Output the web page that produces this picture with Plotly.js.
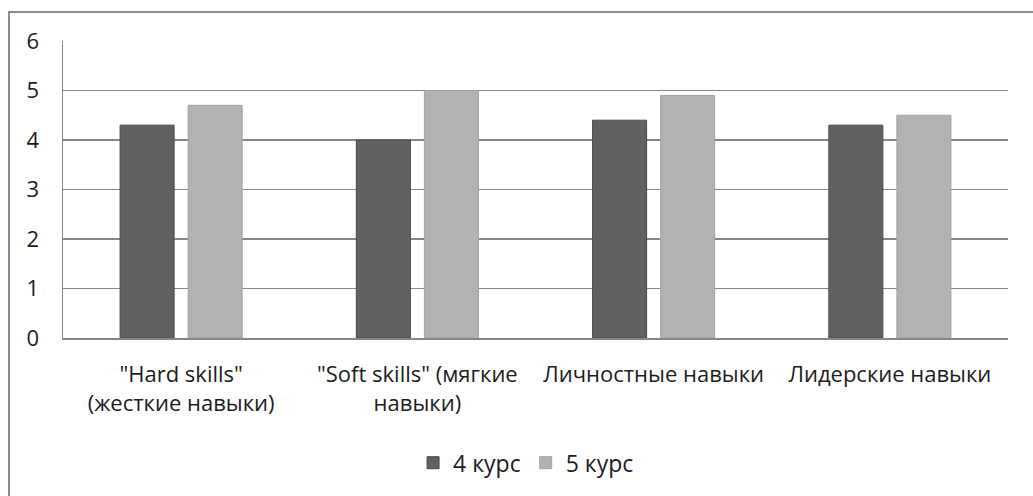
<!DOCTYPE html>
<html>
<head>
<meta charset="utf-8">
<script src="https://cdn.plot.ly/plotly-3.0.1.min.js"></script>
<style>
  html, body { margin: 0; padding: 0; background: #fff; }
  #wrap { position: relative; width: 1033px; height: 496px; overflow: hidden; }
  #chart { position: absolute; left: 0; top: 0; width: 1033px; height: 496px; }
  #frame {
    position: absolute; left: 8px; top: 11px; width: 1100px; height: 600px;
    border-left: 2px solid #8c8c8c; border-top: 2px solid #8c8c8c;
    pointer-events: none;
  }
</style>
</head>
<body>
<div id="wrap">
  <div id="chart"></div>
  <div id="frame"></div>
</div>
<script>
// Skill categories (x axis)
const categories = [
  '"Hard skills"<br>(жесткие навыки)',
  '"Soft skills" (мягкие<br>навыки)',
  'Личностные навыки',
  'Лидерские навыки'
];
// Average scores per course
const course4 = [4.3, 4.0, 4.4, 4.3];
const course5 = [4.7, 5.0, 4.9, 4.5];
const seriesNames = ['4 курс', '5 курс'];
const yTicks = [0, 1, 2, 3, 4, 5, 6];

const fontFamily = '"Open Sans", "Noto Sans", sans-serif';
const textColor = '#1c1c1c';

const traces = [
  {
    type: 'bar', name: seriesNames[0], x: categories, y: course4,
    marker: { color: '#616161', line: { color: '#4a4a4a', width: 1 } },
    hoverinfo: 'skip'
  },
  {
    type: 'bar', name: seriesNames[1], x: categories, y: course5,
    marker: { color: '#b2b2b2', line: { color: '#a2a2a2', width: 1 } },
    hoverinfo: 'skip'
  }
];

const layout = {
  width: 1033, height: 496,
  margin: { l: 63, r: 25, t: 41, b: 158 },
  paper_bgcolor: 'rgba(0,0,0,0)',
  plot_bgcolor: '#fff',
  font: { family: fontFamily, size: 22, color: textColor },
  barmode: 'group',
  bargap: 0.424,
  bargroupgap: 0.206,
  showlegend: true,
  legend: {
    orientation: 'h', x: 0.49, xanchor: 'center', y: -0.42, yanchor: 'middle',
    font: { family: fontFamily, size: 23, color: textColor },
    itemwidth: 30, traceorder: 'normal'
  },
  xaxis: {
    type: 'category',
    showgrid: false,
    showline: true, linecolor: '#868686', linewidth: 1.5,
    ticks: '', ticklabelstandoff: 16,
    tickfont: { family: fontFamily, size: 22, color: textColor },
    fixedrange: true
  },
  yaxis: {
    range: [0, 6],
    tickvals: yTicks, ticktext: yTicks.map(String),
    showgrid: true, gridcolor: '#868686', gridwidth: 1.5,
    zeroline: false,
    showline: true, linecolor: '#868686', linewidth: 1.5,
    ticks: '', ticklabelstandoff: 18,
    tickfont: { family: fontFamily, size: 22, color: textColor },
    fixedrange: true
  }
};

Plotly.newPlot('chart', traces, layout, { staticPlot: true, displayModeBar: false });
</script>
</body>
</html>
